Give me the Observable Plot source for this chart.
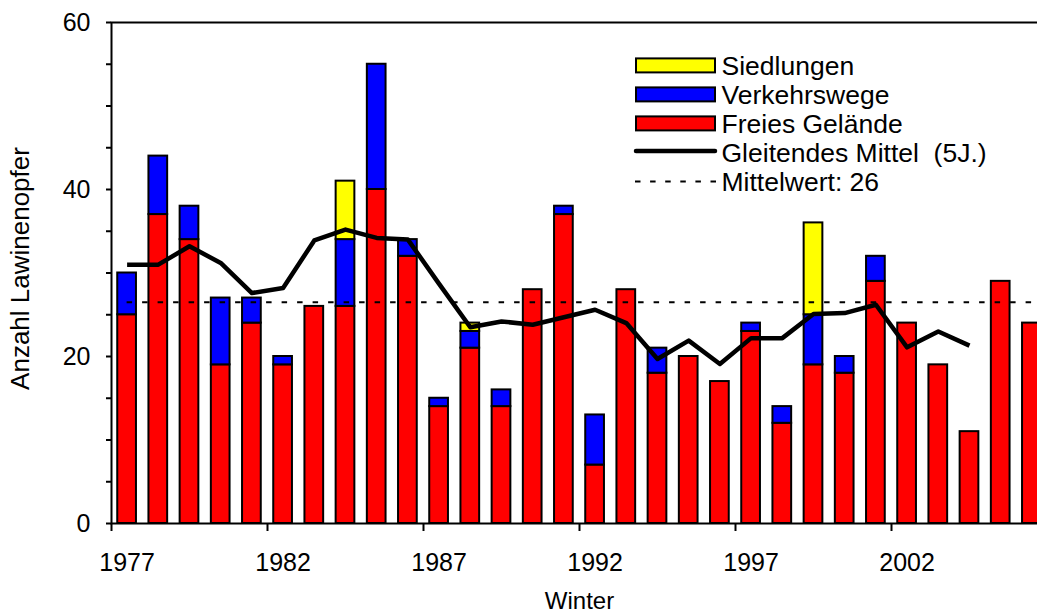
<!DOCTYPE html>
<html><head><meta charset="utf-8">
<script src="https://cdn.jsdelivr.net/npm/d3@7"></script>
<script src="https://cdn.jsdelivr.net/npm/@observablehq/plot@0.6"></script>
<style>
html,body{margin:0;padding:0;background:#fff;}
#chart{position:relative;width:1037px;height:615px;overflow:hidden;}
</style></head><body><div id="chart"></div>
<script>
// ---- data ----
const years = [1977,1978,1979,1980,1981,1982,1983,1984,1985,1986,1987,1988,1989,1990,1991,1992,1993,1994,1995,1996,1997,1998,1999,2000,2001,2002,2003,2004,2005,2006];
const freiesGelaende = [25,37,34,19,24,19,26,26,40,32,14,21,14,28,37,7,28,18,20,17,23,12,19,18,29,24,19,11,29,24];
const verkehrswege   = [5,7,4,8,3,1,0,8,15,2,1,2,2,0,1,6,0,3,0,0,1,2,6,2,3,0,0,0,0,0];
const siedlungen     = [0,0,0,0,0,0,0,7,0,0,0,1,0,0,0,0,0,0,0,0,0,0,11,0,0,0,0,0,0,0];
const maYears = [1977,1978,1979,1980,1981,1982,1983,1984,1985,1986,1987,1988,1989,1990,1991,1992,1993,1994,1995,1996,1997,1998,1999,2000,2001,2002,2003,2004];
const gleitendesMittel = [31.0,31.0,33.2,31.2,27.6,28.2,33.9,35.2,34.2,34.0,28.7,23.5,24.2,23.8,24.7,25.6,24.0,19.7,21.9,19.1,22.2,22.2,25.1,25.2,26.2,21.1,23.0,21.3];
const mittelwert = 26.5;
const seriesNames = ["Freies Gelände","Verkehrswege","Siedlungen"];
const seriesColors = ["#ff0000","#0000ff","#ffff00"];
const legendLabels = ["Siedlungen","Verkehrswege","Freies Gelände","Gleitendes Mittel  (5J.)","Mittelwert: 26"];
const xTickYears = [1977,1982,1987,1992,1997,2002];
const yTickLabels = [0,20,40,60];
const yMinorTicks = [0,5,10,15,20,25,30,35,40,45,50,55,60];
const xTitle = "Winter";
const yTitle = "Anzahl Lawinenopfer";

// ---- derived tables ----
const stacked = [];
years.forEach((yr, i) => {
  let base = 0;
  [freiesGelaende, verkehrswege, siedlungen].forEach((arr, k) => {
    const v = arr[i];
    if (v > 0) stacked.push({year: yr, series: seriesNames[k], y1: base, y2: base + v});
    base += v;
  });
});
const maData = maYears.map((y, i) => ({year: y, value: gleitendesMittel[i]}));

const FONT = "'Liberation Sans', Arial, Helvetica, sans-serif";

const plot = Plot.plot({
  width: 1037, height: 615,
  marginLeft: 111, marginRight: -10, marginTop: 22, marginBottom: 92,
  x: {domain: [1976.5, 2006.5], axis: null, label: null},
  y: {domain: [0, 60], axis: null, label: null},
  color: {domain: seriesNames, range: seriesColors},
  style: {fontFamily: FONT, fontSize: "25px", color: "black", background: "white", overflow: "hidden"},
  marks: [
    Plot.rect(stacked, {x1: d => d.year - 0.3, x2: d => d.year + 0.3, y1: "y1", y2: "y2", fill: "series", stroke: "#000", strokeWidth: 2}),
    Plot.ruleY([mittelwert], {x1: years[0], x2: 2006.5, stroke: "black", strokeWidth: 2, strokeDasharray: "5.5,10"}),
    Plot.line(maData, {x: "year", y: "value", stroke: "black", strokeWidth: 4.5, strokeLinejoin: "round", strokeLinecap: "butt"}),
    Plot.frame({stroke: "black", strokeWidth: 2}),
    Plot.axisY({ticks: yMinorTicks, tickSize: 5, tickFormat: () => "", strokeWidth: 2, label: null}),
    Plot.axisY({ticks: yTickLabels, tickSize: 0, tickPadding: 21, label: null, fontSize: 25}),
    Plot.axisX({ticks: xTickYears.map(y => y - 0.5), tickSize: 8, tickFormat: () => "", strokeWidth: 2, label: null}),
    Plot.axisX({ticks: xTickYears, tickSize: 0, tickPadding: 30, tickFormat: d => String(d), label: null, fontSize: 25}),
    Plot.text([xTitle], {text: d => d, frameAnchor: "bottom", lineAnchor: "middle", textAnchor: "middle", dy: 78, fontSize: 24}),
    Plot.text([yTitle], {text: d => d, frameAnchor: "left", lineAnchor: "middle", textAnchor: "middle", rotate: -90, dx: -90.5, dy: -4.5, fontSize: 26})
  ]
});
document.getElementById("chart").appendChild(plot);

// ---- legend ----
const svg = d3.select(plot);
const lg = svg.append("g").attr("font-family", FONT).attr("font-size", 26.5).attr("text-anchor", "start");
const rowCenters = [65.4, 94.4, 123.4, 152.6, 181.4];
const swatchFill = ["#ffff00", "#0000ff", "#ff0000"];
legendLabels.forEach((lab, i) => {
  const cy = rowCenters[i];
  if (i < 3) {
    lg.append("rect").attr("x", 636).attr("y", cy - 7).attr("width", 79).attr("height", 14)
      .attr("fill", swatchFill[i]).attr("stroke", "#000").attr("stroke-width", 2);
  } else if (i === 3) {
    lg.append("line").attr("x1", 636).attr("x2", 715).attr("y1", cy - 1.5).attr("y2", cy - 1.5)
      .attr("stroke", "#000").attr("stroke-width", 4.5).attr("stroke-linecap", "round");
  } else {
    lg.append("line").attr("x1", 635).attr("x2", 716).attr("y1", cy).attr("y2", cy)
      .attr("stroke", "#000").attr("stroke-width", 2).attr("stroke-dasharray", "5.5,9.6");
  }
  lg.append("text").attr("x", 721.5).attr("y", cy + 9.4).attr("fill", "#000")
    .attr("text-anchor", "start").style("white-space", "pre").text(lab);
});
</script></body></html>
